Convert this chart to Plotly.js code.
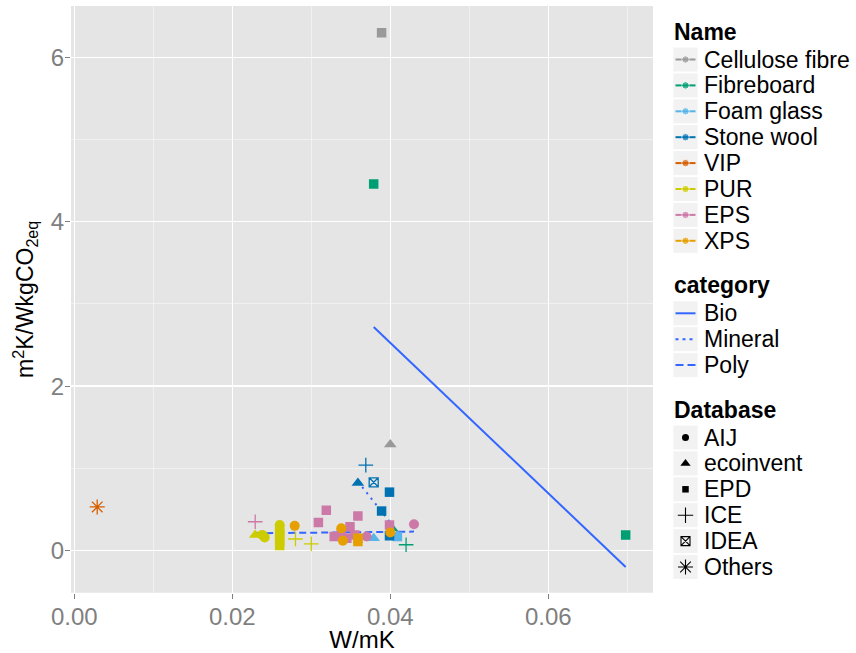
<!DOCTYPE html>
<html><head><meta charset="utf-8">
<script src="https://cdn.plot.ly/plotly-3.0.1.min.js"></script>
<style>html,body{margin:0;padding:0;background:#fff}</style>
</head><body><div id="chart" style="width:856px;height:653px"></div>
<script>
// ---------- data ----------
const names = ["Cellulose fibre","Fibreboard","Foam glass","Stone wool","VIP","PUR","EPS","XPS"];
const nameColors = ["#999999","#009E73","#56B4E9","#0072B2","#D55E00","#CCCC00","#CC79A7","#E69F00"];
const databases = ["AIJ","ecoinvent","EPD","ICE","IDEA","Others"];
const categories = ["Bio","Mineral","Poly"];

// individual materials (parallel arrays)
const ptName = [
  "Cellulose fibre","Cellulose fibre",
  "Fibreboard","Fibreboard","Fibreboard","Fibreboard",
  "Foam glass","Foam glass",
  "Stone wool","Stone wool","Stone wool","Stone wool","Stone wool","Stone wool",
  "VIP",
  "PUR","PUR","PUR","PUR","PUR","PUR","PUR","PUR","PUR","PUR","PUR",
  "EPS","EPS","EPS","EPS","EPS","EPS","EPS","EPS","EPS","EPS","EPS","EPS",
  "XPS","XPS","XPS","XPS","XPS","XPS"
];
const ptDb = [
  "EPD","ecoinvent",
  "EPD","EPD","ICE","ecoinvent",
  "ecoinvent","EPD",
  "ecoinvent","ICE","IDEA","EPD","EPD","EPD",
  "Others",
  "ecoinvent","AIJ","AIJ","EPD","EPD","EPD","EPD","EPD","AIJ","ICE","ICE",
  "ICE","EPD","EPD","EPD","EPD","EPD","EPD","EPD","EPD","EPD","AIJ","AIJ",
  "AIJ","AIJ","AIJ","AIJ","EPD","EPD"
];
const ptX = [
  0.0389, 0.0400,
  0.0379, 0.0698, 0.0420, 0.0402,
  0.0379, 0.0409,
  0.0359, 0.0369, 0.0379, 0.0399, 0.0389, 0.0399,
  0.0029,
  0.0229, 0.0238, 0.0241, 0.0260, 0.0260, 0.0260, 0.0260, 0.0260, 0.0260, 0.0280, 0.0300,
  0.0229, 0.0309, 0.0319, 0.0359, 0.0349, 0.0338, 0.0329, 0.0345, 0.0355, 0.0399, 0.0370, 0.0430,
  0.0279, 0.0338, 0.0340, 0.0400, 0.0359, 0.0359
];
const ptY = [
  6.30, 1.29,
  4.46, 0.19, 0.07, 0.27,
  0.15, 0.17,
  0.82, 1.04, 0.83, 0.71, 0.48, 0.18,
  0.53,
  0.19, 0.19, 0.16, 0.06, 0.11, 0.16, 0.21, 0.26, 0.31, 0.14, 0.08,
  0.35, 0.34, 0.49, 0.42, 0.29, 0.21, 0.17, 0.15, 0.19, 0.31, 0.17, 0.32,
  0.30, 0.27, 0.12, 0.22, 0.11, 0.15
];

// fitted linear trends per category
const bioFitX = [0.0379, 0.0698];
const bioFitY = [2.72, -0.20];
const mineralFitX = [0.0359, 0.0409];
const mineralFitY = [0.84, 0.23];
const polyFitX = [0.0229, 0.0430];
const polyFitY = [0.21, 0.23];

// ---------- styles ----------
const FONT = "Liberation Sans, Arial, sans-serif";
const symbolOf = {AIJ:"circle", ecoinvent:"triangle-up", EPD:"square", ICE:"cross-thin-open", IDEA:"square-x-open", Others:"asterisk-open"};
const sizeOf = {AIJ:10, ecoinvent:11, EPD:9.5, ICE:10.5, IDEA:9, Others:12.5};
const legSizeOf = {AIJ:7, ecoinvent:9, EPD:6.5, ICE:11, IDEA:9, Others:12.5};
const openDb = {ICE:true, IDEA:true, Others:true};
const lineBlue = "#3366FF";
const catDash = {Bio:"solid", Mineral:"2px,5px", Poly:"7px,4px"};
const catDashLeg = {Bio:"solid", Mineral:"3px,4px", Poly:"8px,4px"};
const fits = {Bio:[bioFitX,bioFitY], Mineral:[mineralFitX,mineralFitY], Poly:[polyFitX,polyFitY]};

const traces = [];
// trend lines
categories.forEach(c => {
  traces.push({type:"scatter", mode:"lines", x:fits[c][0], y:fits[c][1], xaxis:"x", yaxis:"y",
    line:{color:lineBlue, width:2, dash:catDash[c]}, showlegend:false, hoverinfo:"skip"});
});
// points grouped by name and database
names.forEach((n, ni) => {
  databases.forEach(d => {
    const xs = [], ys = [];
    ptName.forEach((pn, i) => { if (pn === n && ptDb[i] === d) { xs.push(ptX[i]); ys.push(ptY[i]); } });
    if (!xs.length) return;
    const col = nameColors[ni];
    traces.push({type:"scatter", mode:"markers", x:xs, y:ys, xaxis:"x", yaxis:"y",
      name:n+" / "+d, showlegend:false,
      marker:{symbol:symbolOf[d], size:sizeOf[d], color:col,
        line:{color:col, width: openDb[d] ? 1.3 : 0}}});
  });
});

// ---------- hand-built legend (pixel coordinates on x2/y2) ----------
const shapes = [{type:"rect", xref:"x domain", yref:"y domain", x0:0, x1:1, y0:0, y1:1,
  fillcolor:"#E5E5E5", line:{width:0}, layer:"below"}];
const annotations = [];
const keyX0 = 673.3, keyX1 = 697.7, keyCx = 685.5, textX = 702, keyH = 24;
function keyBox(cy){ shapes.push({type:"rect", xref:"x2", yref:"y2", x0:keyX0, x1:keyX1, y0:cy-keyH/2, y1:cy+keyH/2,
  fillcolor:"#F2F2F2", line:{width:0}, layer:"below"}); }
function legText(cy, txt, bold){ annotations.push({xref:"x2", yref:"y2", x:bold?672:textX, y:cy, text:bold?"<b>"+txt+"</b>":txt,
  showarrow:false, xanchor:"left", yanchor:"middle", font:{family:FONT, size:23, color:"#000"}}); }

const nameTitleY = 31.5, nameY0 = 59.5, step = 25.9;
legText(nameTitleY, "Name", true);
names.forEach((n, i) => {
  const cy = nameY0 + step*i;
  keyBox(cy); legText(cy, n, false);
  traces.push({type:"scatter", mode:"lines+markers", x:[675.5, keyCx, 695.5], y:[cy, cy, cy], xaxis:"x2", yaxis:"y2",
    line:{color:nameColors[i], width:2}, marker:{size:[0,7.5,0], color:nameColors[i], symbol:"circle"},
    showlegend:false, hoverinfo:"skip", cliponaxis:false});
});
const catTitleY = 285, catY0 = 313.3;
legText(catTitleY, "category", true);
categories.forEach((c, i) => {
  const cy = catY0 + step*i;
  keyBox(cy); legText(cy, c, false);
  traces.push({type:"scatter", mode:"lines", x:[675.5, 695.5], y:[cy, cy], xaxis:"x2", yaxis:"y2",
    line:{color:lineBlue, width:2, dash:catDashLeg[c]}, showlegend:false, hoverinfo:"skip", cliponaxis:false});
});
const dbTitleY = 410, dbY0 = 437.5;
legText(dbTitleY, "Database", true);
databases.forEach((d, i) => {
  const cy = dbY0 + step*i;
  keyBox(cy); legText(cy, d, false);
  traces.push({type:"scatter", mode:"markers", x:[keyCx], y:[cy], xaxis:"x2", yaxis:"y2",
    marker:{symbol:symbolOf[d], size:legSizeOf[d], color:"#000", line:{color:"#000", width: openDb[d] ? 1.1 : 0}},
    showlegend:false, hoverinfo:"skip", cliponaxis:false});
});

const W = 856, H = 653;
const panelL = 71, panelR = 653, panelT = 6, panelB = 592.7;
const gridMinor = {showgrid:true, gridcolor:"#F4F4F4", gridwidth:0.8, ticks:""};
const layout = {
  width:W, height:H, margin:{l:0, r:0, t:0, b:0},
  paper_bgcolor:"#FFFFFF", plot_bgcolor:"rgba(0,0,0,0)",
  font:{family:FONT, size:24, color:"#000"},
  showlegend:false,
  xaxis:{domain:[panelL/W, panelR/W], range:[-0.00042, 0.07326], anchor:"y",
    tickmode:"array", tickvals:[0,0.02,0.04,0.06], ticktext:["0.00","0.02","0.04","0.06"],
    minor:Object.assign({tickmode:"array", tickvals:[0.01,0.03,0.05,0.07]}, gridMinor),
    showgrid:true, gridcolor:"#FFFFFF", gridwidth:1.5, zeroline:false, showline:false,
    ticks:"outside", ticklen:5, tickwidth:1.2, tickcolor:"#7F7F7F", ticklabelstandoff:-3,
    tickfont:{family:FONT, size:24, color:"#7F7F7F"}, automargin:false,
    title:{text:"W/mK", font:{family:FONT, size:24, color:"#000"}, standoff:2}},
  yaxis:{domain:[(H-panelB)/H, (H-panelT)/H], range:[-0.513, 6.624], anchor:"x",
    tickmode:"array", tickvals:[0,2,4,6], ticktext:["0","2","4","6"],
    minor:Object.assign({tickmode:"array", tickvals:[1,3,5]}, gridMinor),
    showgrid:true, gridcolor:"#FFFFFF", gridwidth:1.5, zeroline:false, showline:false,
    ticks:"outside", ticklen:5, tickwidth:1.2, tickcolor:"#7F7F7F", ticklabelstandoff:-4,
    tickfont:{family:FONT, size:24, color:"#7F7F7F"}, automargin:false,
    title:{text:"m<sup>2</sup>K/WkgCO<sub>2eq</sub>", font:{family:FONT, size:23, color:"#000"}, standoff:10}},
  xaxis2:{domain:[0,1], range:[0,W], anchor:"y2", visible:false, fixedrange:true},
  yaxis2:{domain:[0,1], range:[H,0], anchor:"x2", visible:false, fixedrange:true},
  shapes:shapes, annotations:annotations
};
Plotly.newPlot("chart", traces, layout, {staticPlot:true, displayModeBar:false});
</script></body></html>
